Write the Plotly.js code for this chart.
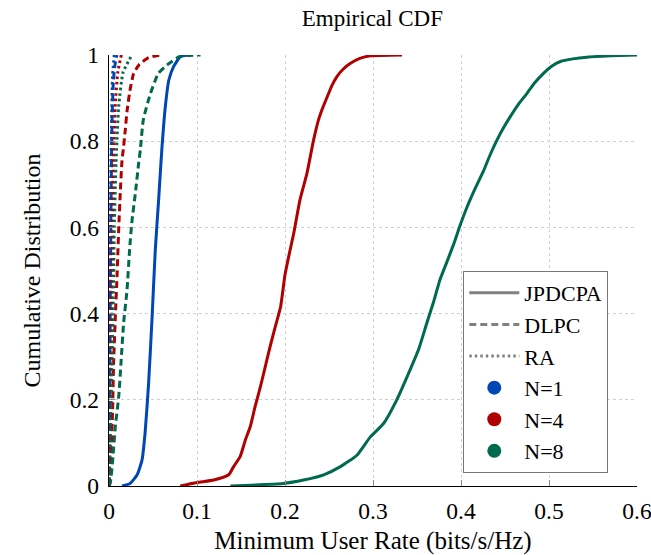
<!DOCTYPE html>
<html>
<head>
<meta charset="utf-8">
<script src="https://cdn.plot.ly/plotly-3.0.1.min.js"></script>
<style>html,body{margin:0;padding:0;background:#fff}#chart{width:651px;height:555px}</style>
</head>
<body>
<div id="chart"></div>
<script>
// ---- data ----
// JPDCPA (solid)
const jpdcpaN1X = [0.0148, 0.024, 0.032, 0.0375, 0.041, 0.045, 0.049, 0.0526, 0.0564, 0.060, 0.064, 0.068, 0.0734, 0.081, 0.0886];
const jpdcpaN1Y = [0, 0.006, 0.026, 0.06, 0.123, 0.238, 0.393, 0.548, 0.664, 0.78, 0.88, 0.942, 0.973, 0.996, 1];
const jpdcpaN4X = [0.081, 0.100, 0.119, 0.136, 0.1416, 0.149, 0.155, 0.1606, 0.166, 0.172, 0.1776, 0.183, 0.189, 0.195, 0.200, 0.205, 0.210, 0.217, 0.225, 0.2325, 0.238, 0.243, 0.248, 0.253, 0.259, 0.266, 0.274, 0.285, 0.297, 0.333];
const jpdcpaN4Y = [0, 0.008, 0.014, 0.026, 0.045, 0.068, 0.107, 0.138, 0.184, 0.23, 0.277, 0.323, 0.37, 0.416, 0.49, 0.54, 0.587, 0.664, 0.726, 0.803, 0.849, 0.878, 0.903, 0.928, 0.95, 0.967, 0.98, 0.992, 0.998, 1];
const jpdcpaN8X = [0.138, 0.198, 0.221, 0.244, 0.263, 0.282, 0.297, 0.312, 0.327, 0.342, 0.352, 0.361, 0.369, 0.376, 0.384, 0.392, 0.399, 0.407, 0.416, 0.426, 0.433, 0.441, 0.448, 0.456, 0.465, 0.475, 0.484, 0.494, 0.503, 0.513, 0.527, 0.543, 0.570, 0.600];
const jpdcpaN8Y = [0, 0.006, 0.014, 0.026, 0.045, 0.072, 0.114, 0.145, 0.2, 0.269, 0.318, 0.377, 0.428, 0.478, 0.52, 0.563, 0.605, 0.648, 0.69, 0.733, 0.768, 0.803, 0.83, 0.857, 0.885, 0.911, 0.936, 0.958, 0.974, 0.985, 0.991, 0.995, 0.998, 1];
// DLPC (dashed)
const dlpcN1X = [0, 0.0008, 0.0015, 0.0025, 0.0035, 0.005, 0.007, 0.009];
const dlpcN1Y = [0, 0.2, 0.45, 0.7, 0.85, 0.94, 0.98, 1];
const dlpcN4X = [0, 0.0007, 0.0026, 0.0041, 0.0052, 0.0072, 0.0091, 0.011, 0.0128, 0.0148, 0.0166, 0.0185, 0.0205, 0.024, 0.028, 0.034, 0.045, 0.058];
const dlpcN4Y = [0, 0.007, 0.084, 0.176, 0.285, 0.393, 0.486, 0.594, 0.68, 0.756, 0.787, 0.826, 0.87, 0.92, 0.957, 0.977, 0.994, 1];
const dlpcN8X = [0, 0.0015, 0.0045, 0.0072, 0.011, 0.0136, 0.0166, 0.0205, 0.0234, 0.026, 0.030, 0.0337, 0.0356, 0.039, 0.047, 0.056, 0.066, 0.081, 0.104];
const dlpcN8Y = [0, 0.007, 0.068, 0.138, 0.207, 0.285, 0.378, 0.455, 0.548, 0.613, 0.68, 0.749, 0.78, 0.85, 0.91, 0.957, 0.977, 0.997, 1];
// RA (dotted)
const raN1X = [0, 0.0005, 0.001, 0.0015, 0.002, 0.003, 0.004, 0.006];
const raN1Y = [0, 0.1, 0.3, 0.5, 0.7, 0.85, 0.95, 1];
const raN4X = [0, 0.001, 0.002, 0.003, 0.004, 0.005, 0.007, 0.010, 0.014];
const raN4Y = [0, 0.1, 0.25, 0.45, 0.6, 0.75, 0.88, 0.96, 1];
const raN8X = [0, 0.0015, 0.003, 0.005, 0.006, 0.008, 0.011, 0.016, 0.026];
const raN8Y = [0, 0.1, 0.25, 0.45, 0.6, 0.75, 0.88, 0.96, 1];

const schemeNames = ['JPDCPA', 'DLPC', 'RA'];
const groupNames = ['N=1', 'N=4', 'N=8'];
const xTicks = [0, 0.1, 0.2, 0.3, 0.4, 0.5, 0.6];
const xTickText = ['0', '0.1', '0.2', '0.3', '0.4', '0.5', '0.6'];
const yTicks = [0, 0.2, 0.4, 0.6, 0.8, 1];
const yTickText = ['0', '0.2', '0.4', '0.6', '0.8', '1'];

// ---- styles ----
const colors = ['rgb(0,70,180)', 'rgb(176,0,0)', 'rgb(0,106,78)'];
const dashes = ['solid', '7px,4px', '2.5px,3px'];
const FONT = '"Liberation Serif", "Times New Roman", serif';

const seriesX = [[jpdcpaN1X, jpdcpaN4X, jpdcpaN8X], [dlpcN1X, dlpcN4X, dlpcN8X], [raN1X, raN4X, raN8X]];
const seriesY = [[jpdcpaN1Y, jpdcpaN4Y, jpdcpaN8Y], [dlpcN1Y, dlpcN4Y, dlpcN8Y], [raN1Y, raN4Y, raN8Y]];

const traces = [];
for (let s = 0; s < 3; s++) {
  for (let g = 0; g < 3; g++) {
    traces.push({
      x: seriesX[s][g], y: seriesY[s][g], type: 'scatter', mode: 'lines',
      line: {color: colors[g], width: 3, dash: dashes[s], shape: 'spline', smoothing: 0.5},
      showlegend: false, hoverinfo: 'skip'
    });
  }
}
// legend entries
for (let s = 0; s < 3; s++) {
  traces.push({
    x: [null], y: [null], type: 'scatter', mode: 'lines', name: schemeNames[s],
    line: {color: '#808080', width: 3, dash: dashes[s]}
  });
}
for (let g = 0; g < 3; g++) {
  traces.push({
    x: [null], y: [null], type: 'scatter', mode: 'markers', name: groupNames[g],
    marker: {color: colors[g], size: 14, symbol: 'circle'}
  });
}

const layout = {
  width: 651, height: 555,
  margin: {l: 109, r: 14, t: 55, b: 69},
  paper_bgcolor: '#fff', plot_bgcolor: '#fff',
  font: {family: FONT, size: 23, color: '#000'},
  title: {text: 'Empirical CDF', font: {family: FONT, size: 23, color: '#000'}, x: 0.572, xanchor: 'center', y: 0.968, yanchor: 'middle'},
  xaxis: {
    range: [0, 0.6], tickvals: xTicks, ticktext: xTickText,
    showgrid: true, gridcolor: '#cfcfcf', griddash: 'dot', gridwidth: 1,
    zeroline: false, showline: true, linecolor: '#000', linewidth: 1.3,
    ticks: 'inside', ticklen: 6, tickcolor: '#8a8a8a', tickwidth: 1,
    tickfont: {family: FONT, size: 23.5}, ticklabelstandoff: 3, ticklabeloverflow: 'allow',
    title: {text: 'Minimum User Rate (bits/s/Hz)', font: {family: FONT, size: 25}, standoff: 9}
  },
  yaxis: {
    range: [0, 1], tickvals: yTicks, ticktext: yTickText,
    showgrid: true, gridcolor: '#cfcfcf', griddash: 'dot', gridwidth: 1,
    zeroline: false, showline: true, linecolor: '#000', linewidth: 1.3,
    ticks: 'inside', ticklen: 6, tickcolor: '#8a8a8a', tickwidth: 1,
    tickfont: {family: FONT, size: 23.5}, ticklabelstandoff: 4, ticklabeloverflow: 'allow',
    title: {text: 'Cumulative Distribution', font: {family: FONT, size: 24}, standoff: 22}
  },
  legend: {
    x: 0.671, y: 0.03, xanchor: 'left', yanchor: 'bottom',
    bgcolor: '#fff', bordercolor: '#777', borderwidth: 1,
    font: {family: FONT, size: 22, color: '#000'},
    itemwidth: 50, traceorder: 'normal'
  },
  showlegend: true
};

Plotly.newPlot('chart', traces, layout, {displayModeBar: false, staticPlot: true});
</script>
</body>
</html>
